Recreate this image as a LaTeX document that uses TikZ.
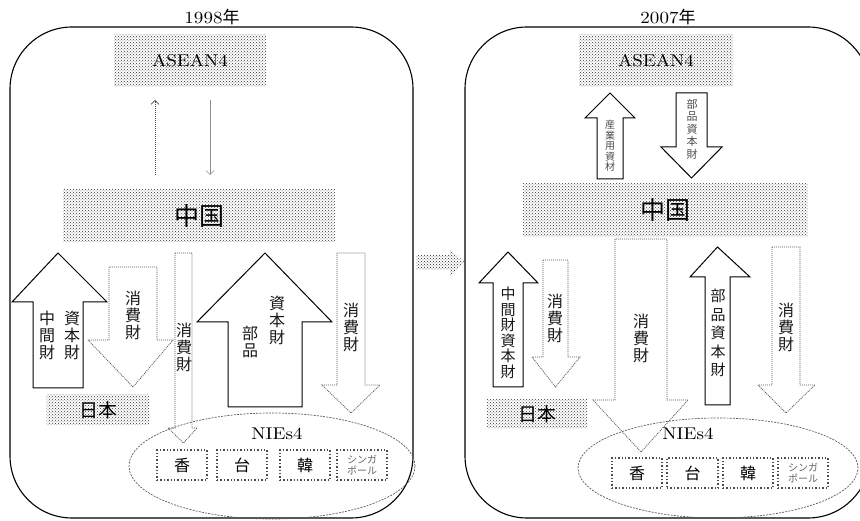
\documentclass[tikz,border=0pt]{standalone}
\usepackage{fontspec}
\newfontfamily\jp{Noto Sans CJK JP}
\newfontfamily\latw{lmroman10-regular}[Extension=.otf, FakeStretch=1.12]
\usetikzlibrary{patterns,arrows.meta,shapes.geometric}
\tikzset{
 hatchbox/.style={pattern=crosshatch dots, pattern color=black!80, draw=none, inner sep=0pt},
 solidarr/.style={draw=black, line width=1pt, fill=white, line join=miter},
 dotarr/.style={draw=black!65, dash pattern=on 1pt off 1pt, line width=0.8pt, fill=white},
 vt/.style={align=center, inner sep=0pt, text=black!90, font=\jp\fontsize{16}{17}\selectfont},
 frame/.style={draw=black, line width=1.1pt, rounded corners=62pt},
 nies/.style={ellipse, draw=black!65, dash pattern=on 2pt off 1.2pt, line width=0.7pt, inner sep=0pt},
 cbox/.style={draw=black!70, dotted, line width=1.4pt, minimum width=50pt, minimum height=30pt, inner sep=0pt, font=\jp\fontsize{16}{16}\selectfont},
 sbox/.style={cbox, text=black!60, font=\jp\fontsize{10}{11}\selectfont, align=center},
 ttl/.style={inner sep=0pt, font=\latw\fontsize{17}{17}\selectfont},
 lat/.style={font=\latw\fontsize{17}{17}\selectfont},
 big/.style={font=\jp\fontsize{25}{25}\selectfont},
 jpn/.style={font=\jp\fontsize{19}{19}\selectfont},
 thin/.style={line width=0.7pt, -{Straight Barb[length=4pt,width=8pt]}},
}
% style, xl, xr, yend, ybase, headleft, headright, ytip
\newcommand\myArrow[8]{%
 \path[#1] (#2,#4) -- (#2,#5) -- (#6,#5) -- ({(#2+#3)/2},#8) -- (#7,#5) -- (#3,#5) -- (#3,#4) -- cycle;}
\begin{document}
\begin{tikzpicture}[x=1pt,y=-1pt]
\useasboundingbox (0,0) rectangle (860,521);
\clip (0,0) rectangle (860,521);

% ---------------- frames ----------------
\draw[frame] (10,27) rectangle (413,518);
\draw[frame] (465,27) rectangle (870,518);
\node[ttl] (t1) at (212,17) {1998{\jp 年}};
\node[ttl] (t2) at (668,17) {2007{\jp 年}};

% middle arrow
\path[pattern=crosshatch dots, pattern color=black!85] (416,255) -- (450,255) -- (450,249) -- (465,262.5) -- (450,276) -- (450,270) -- (416,270) -- cycle;

% ---------------- 1998 ----------------
\node[hatchbox, minimum width=152pt, minimum height=52pt, lat] (as1) at (190,61) {ASEAN4};
\node[hatchbox, minimum width=272pt, minimum height=52pt, big] (ch1) at (199,216) {中国};
\coordinate (u1a) at (155,175); \coordinate (u1b) at (155,100);
\coordinate (d1a) at (210,100); \coordinate (d1b) at (210,175);
\draw[thin, black!70, dash pattern=on 1pt off 1pt] (u1a) -- (u1b);
\draw[thin, black!45] (d1a) -- (d1b);

\myArrow{dotarr}{109}{157}{267}{340}{88}{173}{387}
\myArrow{solidarr}{33}{83}{388}{302}{12}{107}{253}
\myArrow{dotarr}{175}{192}{253}{428}{168}{197}{443}
\myArrow{solidarr}{228}{302}{407}{322}{197}{332}{253}
\myArrow{dotarr}{337}{365}{253}{385}{322}{380}{413}

\node[vt] (a1t1) at (72,335) {資\\本\\財};
\node[vt] (a1t2) at (47,335) {中\\間\\財};
\node[vt] (a2t) at (133,315) {消\\費\\財};
\node[vt] (a3t) at (184,347) {消\\費\\財};
\node[vt] (a4t1) at (277,320) {資\\本\\財};
\node[vt] (a4t2) at (250,342) {部\\品};
\node[vt] (a5t) at (351,327) {消\\費\\財};

\node[hatchbox, minimum width=103pt, minimum height=30pt, jpn] (jp1) at (98,410) {日本};

\node[nies, minimum width=286pt, minimum height=106pt] (n1) at (272,466) {};
\node[lat, inner sep=0pt] (n1l) at (277,434) {NIEs4};
\node[cbox] (hk1) at (182,465) {香};
\node[cbox] (tw1) at (242,465) {台};
\node[cbox] (kr1) at (305,465) {韓};
\node[sbox] (sg1) at (362,465) {シンガ\\ポール};

% ---------------- 2007 ----------------
\node[hatchbox, minimum width=154pt, minimum height=52pt, lat] (as2) at (656,61) {ASEAN4};
\node[hatchbox, minimum width=285pt, minimum height=53pt, big] (ch2) at (665,210) {中国};

\myArrow{solidarr}{597}{623}{179}{118}{585}{635}{93}
\myArrow{solidarr}{676}{707}{93}{147}{661}{722}{178}
\node[vt, font=\jp\fontsize{10}{10.5}\selectfont, text=black!70] (c1t) at (610,146) {産\\業\\用\\資\\材};
\node[vt, font=\jp\fontsize{11}{12.5}\selectfont, text=black!70] (c2t) at (692,129) {部\\品\\資\\本\\財};

\myArrow{solidarr}{493}{523}{387}{283}{479}{538}{252}
\myArrow{dotarr}{543}{568}{260}{357}{532}{580}{387}
\myArrow{dotarr}{615}{667}{239}{400}{593}{688}{452}
\myArrow{solidarr}{705}{730}{405}{277}{690}{750}{247}
\myArrow{dotarr}{772}{800}{247}{385}{758}{815}{413}

\node[vt, font=\jp\fontsize{15}{15.5}\selectfont] (b1t) at (508,333) {中\\間\\財\\資\\本\\財};
\node[vt] (b2t) at (555,318) {消\\費\\財};
\node[vt] (b3t) at (641,338) {消\\費\\財};
\node[vt, font=\jp\fontsize{15}{18.6}\selectfont] (b4t) at (718,333) {部\\品\\資\\本\\財};
\node[vt] (b5t) at (786,327) {消\\費\\財};

\node[hatchbox, minimum width=100pt, minimum height=28pt, jpn] (jp2) at (537,414) {日本};

\node[nies, minimum width=280pt, minimum height=100pt] (n2) at (718,468) {};
\node[lat, inner sep=0pt] (n2l) at (688,434) {NIEs4};
\node[cbox] (hk2) at (637,473) {香};
\node[cbox, minimum width=51pt] (tw2) at (692.5,473) {台};
\node[cbox] (kr2) at (748,473) {韓};
\node[sbox] (sg2) at (803,473) {シンガ\\ポール};
\end{tikzpicture}
\end{document}
